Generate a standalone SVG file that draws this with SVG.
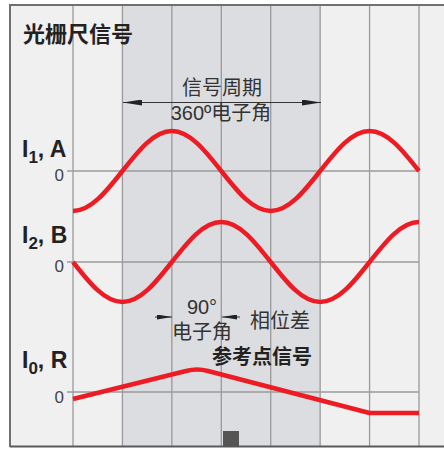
<svg xmlns="http://www.w3.org/2000/svg" width="444" height="449" viewBox="0 0 444 449">
<style>
.grid{stroke:#9a9a9a;stroke-width:1.3;fill:none}
.sig{stroke:#ed1c24;stroke-width:4.5;fill:none;stroke-linejoin:round}
.dim{stroke:#333;stroke-width:1;fill:none}
.cjk{font-family:"Liberation Sans","Noto Sans CJK SC",sans-serif;font-size:20px;fill:#333}
.bold{font-family:"Liberation Sans","Noto Sans CJK SC",sans-serif;font-weight:bold;fill:#222}
.zero{font-family:"Liberation Sans",sans-serif;font-size:17px;fill:#444;text-anchor:end}
</style>
<defs>
<marker id="ah" viewBox="0 0 19 6" refX="19" refY="3" markerWidth="19" markerHeight="6" markerUnits="userSpaceOnUse" orient="auto-start-reverse"><path d="M0,0 L19,3 L0,6 z" fill="#222"/></marker>
<marker id="ahs" viewBox="0 0 15 5" refX="15" refY="2.5" markerWidth="15" markerHeight="5" markerUnits="userSpaceOnUse" orient="auto"><path d="M0,0 L15,2.5 L0,5 z" fill="#222"/></marker>
</defs>
<rect x="0" y="0" width="444" height="449" fill="#fff"/>
<rect x="10" y="5" width="434" height="441" fill="#f0f0f0"/>
<rect x="122.43" y="5" width="197.71" height="441" fill="#dcdde0"/>
<g id="grid">
<path class="grid" d="M73,5V446M122.43,5V446M171.86,5V446M221.29,5V446M270.71,5V446M320.14,5V446M369.57,5V446"/>
<path class="grid" stroke-width="2" d="M419,5V446"/>
<path class="grid" d="M67,171H419M67,262H419M67,392H419"/>
</g>
<g id="frame" fill="none" stroke="#707070" stroke-width="2">
<path d="M10,4V447M10,5H444"/>
<path d="M10,446.5H444" stroke="#5a5a5a"/>
</g>
<g id="connectors">
<line class="dim" x1="123" y1="102.5" x2="321" y2="102.5" marker-start="url(#ah)" marker-end="url(#ah)"/>
<line class="dim" x1="155" y1="317" x2="172" y2="317" marker-end="url(#ahs)"/>
<line class="dim" x1="240" y1="317" x2="222" y2="317" marker-end="url(#ahs)"/>
</g>
<g id="signal-I1">
<path class="sig" d="M73,211 C90.89,211 106.31,191.49 122.43,171 C138.55,150.51 153.97,131 171.86,131 C189.75,131 205.17,150.51 221.29,171 C237.41,191.49 252.83,211 270.71,211 C288.6,211 304.02,191.49 320.14,171 C336.26,150.51 351.68,131 369.57,131 C387.46,131 402.88,150.51 419,171"/>
<text class="bold" x="22" y="157" font-size="23">I<tspan font-size="17" dy="6">1</tspan><tspan dy="-6">, A</tspan></text>
<text class="zero" x="64" y="181">0</text>
</g>
<g id="signal-I2">
<path class="sig" d="M73,262 C89.12,282.49 104.54,302 122.43,302 C140.32,302 155.74,282.49 171.86,262 C187.98,241.51 203.4,222 221.29,222 C239.18,222 254.6,241.51 270.71,262 C286.83,282.49 302.25,302 320.14,302 C338.03,302 353.45,282.49 369.57,262 C385.69,241.51 401.11,222 419,222"/>
<text class="bold" x="22" y="243" font-size="23">I<tspan font-size="17" dy="6">2</tspan><tspan dy="-6">, B</tspan></text>
<text class="zero" x="64" y="272">0</text>
</g>
<g id="signal-I0">
<path class="sig" d="M73,399 L186,371 Q197,368 208,371 L369.57,413 L419,413"/>
<text class="bold" x="22" y="368" font-size="23">I<tspan font-size="17" dy="6">0</tspan><tspan dy="-6">, R</tspan></text>
<text class="zero" x="64" y="403">0</text>
</g>
<g id="title">
<text class="bold" x="23" y="42" font-size="22">光栅尺信号</text>
</g>
<g id="period-label">
<text class="cjk" x="222" y="95" text-anchor="middle">信号周期</text>
<text class="cjk" x="221" y="120" text-anchor="middle">360º电子角</text>
</g>
<g id="phase-label">
<text class="cjk" x="202" y="314" text-anchor="middle">90°</text>
<text class="cjk" x="202" y="339" text-anchor="middle">电子角</text>
<text class="cjk" x="250" y="328">相位差</text>
</g>
<g id="ref-label">
<text class="bold" x="212" y="364" font-size="20">参考点信号</text>
</g>
<rect id="ref-mark" x="223" y="431" width="16" height="16" fill="#555"/>
</svg>
